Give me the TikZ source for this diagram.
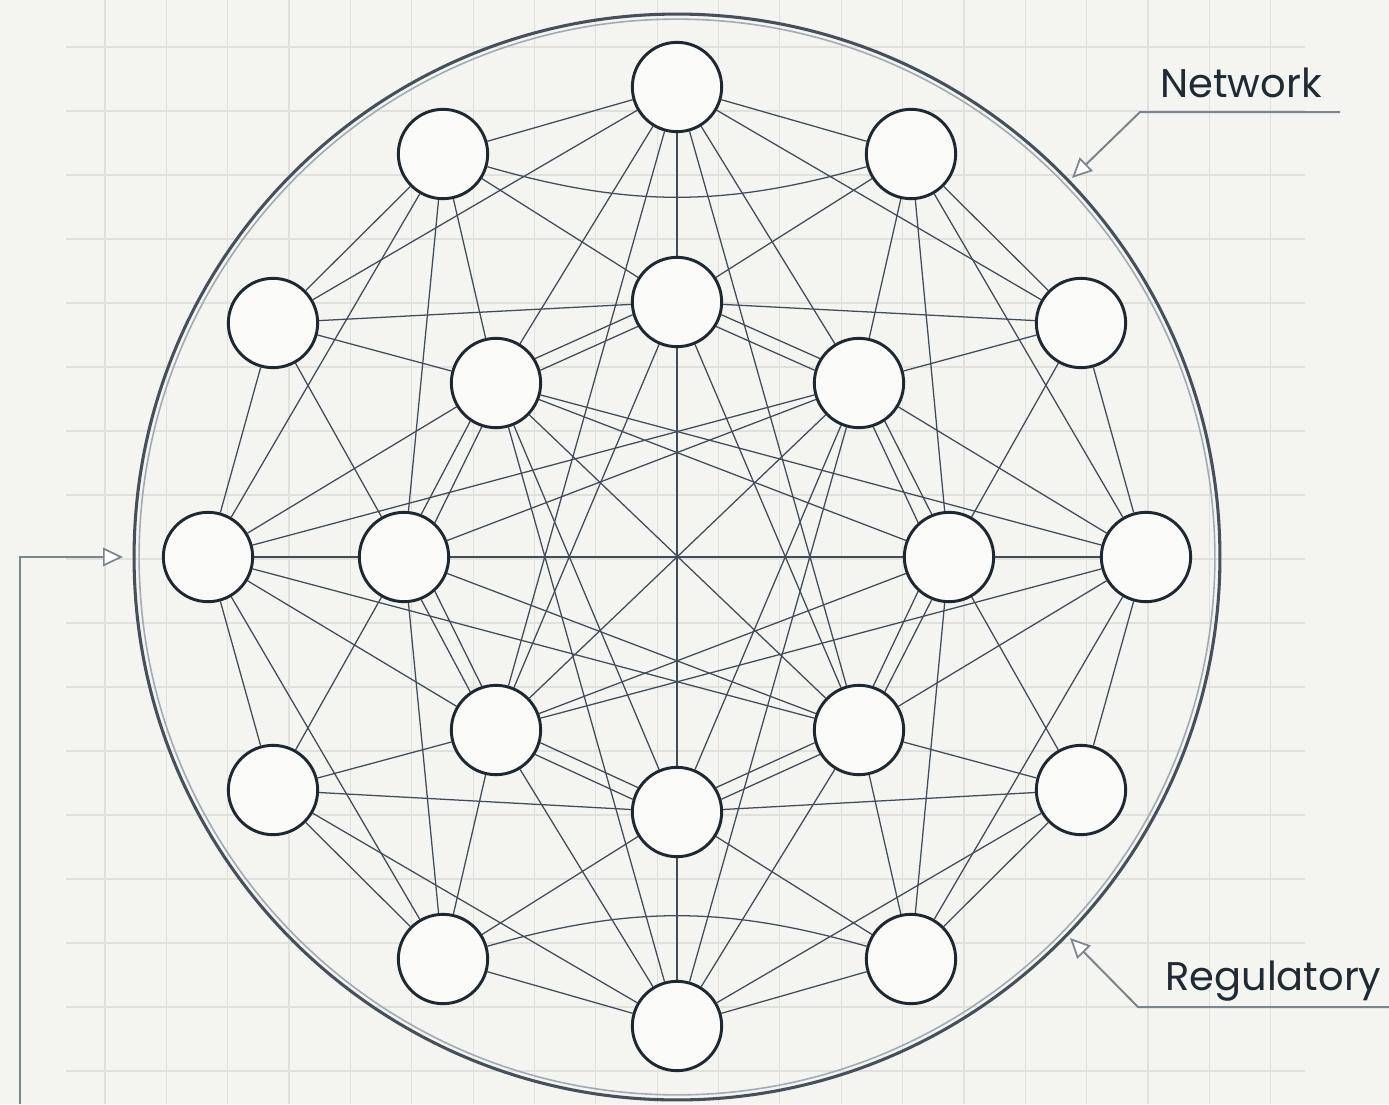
\documentclass[tikz,border=0pt]{standalone}
\usepackage{fontspec}
\setmainfont{Poppins}
\usetikzlibrary{arrows.meta}
\definecolor{bgc}{HTML}{F4F4F1}
\definecolor{gridc}{HTML}{E0E0DC}
\definecolor{edgec}{HTML}{404C58}
\definecolor{nodec}{HTML}{1E2830}
\definecolor{ringc}{HTML}{46505A}
\definecolor{ringl}{HTML}{A3ABB2}
\definecolor{leadc}{HTML}{7B858D}
\definecolor{txtc}{HTML}{1F2A33}
\pgfdeclarelayer{bglayer}
\pgfdeclarelayer{edgelayer}
\pgfsetlayers{bglayer,edgelayer,main}
\begin{document}
\begin{tikzpicture}[x=0.75pt,y=-0.75pt,
  nd/.style={circle,draw=nodec,line width=2.2pt,fill=white!55!bgc,minimum size=67pt,inner sep=0pt},
  ed/.style={draw=edgec,line width=0.95pt},
  gridline/.style={draw=gridc,line width=0.9pt},
  leader/.style={draw=leadc,line width=1.5pt,-{Triangle[length=15pt,width=14pt,fill=white,line width=1.3pt]}},
  lbl/.style={text=txtc,font=\fontsize{30}{30}\selectfont,anchor=base west,inner sep=0pt}
]
\useasboundingbox (0,0) rectangle (1389,1104);
\begin{pgfonlayer}{bglayer}
\fill[bgc] (0,0) rectangle (1389,1104);
\foreach \k in {0,...,19} \draw[gridline] ({105+61.35*\k},0) -- ({105+61.35*\k},1104);
\foreach \k in {0,...,16} \draw[gridline] (66,{47+64*\k}) -- (1305,{47+64*\k});
\draw[ringc,line width=2.3pt] (677,557) circle[radius=407.2pt];
\draw[ringl,line width=1.2pt] (677,557) circle[radius=403.4pt];
\end{pgfonlayer}

% outer ring
\node[nd] (o0) at (677,87) {};
\node[nd] (o1) at (911,154) {};
\node[nd] (o2) at (1081,323) {};
\node[nd] (o3) at (1146,557) {};
\node[nd] (o4) at (1081,790) {};
\node[nd] (o5) at (911,959) {};
\node[nd] (o6) at (677,1026) {};
\node[nd] (o7) at (443,959) {};
\node[nd] (o8) at (273,790) {};
\node[nd] (o9) at (208,557) {};
\node[nd] (o10) at (273,323) {};
\node[nd] (o11) at (443,154) {};
% inner ring
\node[nd] (i0) at (677,302) {};
\node[nd] (i1) at (859,383) {};
\node[nd] (i2) at (949,557) {};
\node[nd] (i3) at (859,730) {};
\node[nd] (i4) at (677,812) {};
\node[nd] (i5) at (496,730) {};
\node[nd] (i6) at (404,557) {};
\node[nd] (i7) at (496,383) {};

\begin{pgfonlayer}{edgelayer}
\foreach \a/\b in {o0/o11,o0/o1,o6/o7,o6/o5, o11/o10,o1/o2,o7/o8,o5/o4, o10/o9,o2/o3,o8/o9,o4/o3,
  o0/o10,o0/o2,o6/o8,o6/o4, o11/o9,o1/o3,o7/o9,o5/o3,
  o0/i0,o6/i4, o0/i7,o0/i1,o6/i5,o6/i3, o0/i5,o0/i3,o6/i7,o6/i1,
  o11/i0,o1/i0,o7/i4,o5/i4, o11/i7,o1/i1,o7/i5,o5/i3,
  o11/i6,o1/i2,o7/i6,o5/i2, o10/i0,o2/i0,o8/i4,o4/i4, o10/i7,o2/i1,o8/i5,o4/i3,
  o10/i6,o2/i2,o8/i6,o4/i2, o9/i7,o3/i1,o9/i5,o3/i3,
  o9/i1,o3/i7,o9/i3,o3/i5, o9/i6,o3/i2,
  i0/i5,i0/i3,i4/i7,i4/i1, i6/i1,i2/i7,i6/i3,i2/i5,
  i7/i3,i1/i5, i0/i4,i6/i2}
  \draw[ed] (\a) -- (\b);
% doubled inner links
\foreach \a/\aa/\b/\bb in {i7/32/i0/196, i7/16/i0/212, i1/148/i0/344, i1/164/i0/328,
  i5/328/i4/164, i5/344/i4/148, i3/212/i4/16, i3/196/i4/32,
  i7/236/i6/68, i7/252/i6/48, i1/304/i2/112, i1/288/i2/132,
  i5/124/i6/292, i5/108/i6/312, i3/56/i2/248, i3/72/i2/228}
  \draw[ed] (\a.\aa) -- (\b.\bb);
\draw[ed] (o11) to[bend right=16] (o1);
\draw[ed] (o7) to[bend left=16] (o5);
\end{pgfonlayer}

% labels and leaders
\node[lbl] (netlabel) at (1160,97) {Network};
\node[lbl] (reglabel) at (1165,990) {Regulatory};
\coordinate (nwa) at (1340,112);
\coordinate (nwb) at (1140,112);
\coordinate (nwtip) at (1072,178);
\draw[leader] (nwa) -- (nwb) -- (nwtip);
\coordinate (rga) at (1389,1007);
\coordinate (rgb) at (1138,1007);
\coordinate (rgtip) at (1070,938);
\draw[leader] (rga) -- (rgb) -- (rgtip);
\coordinate (lfa) at (20,1104);
\coordinate (lftip) at (123,557);
\draw[leader] (lfa) |- (lftip);
\end{tikzpicture}
\end{document}
